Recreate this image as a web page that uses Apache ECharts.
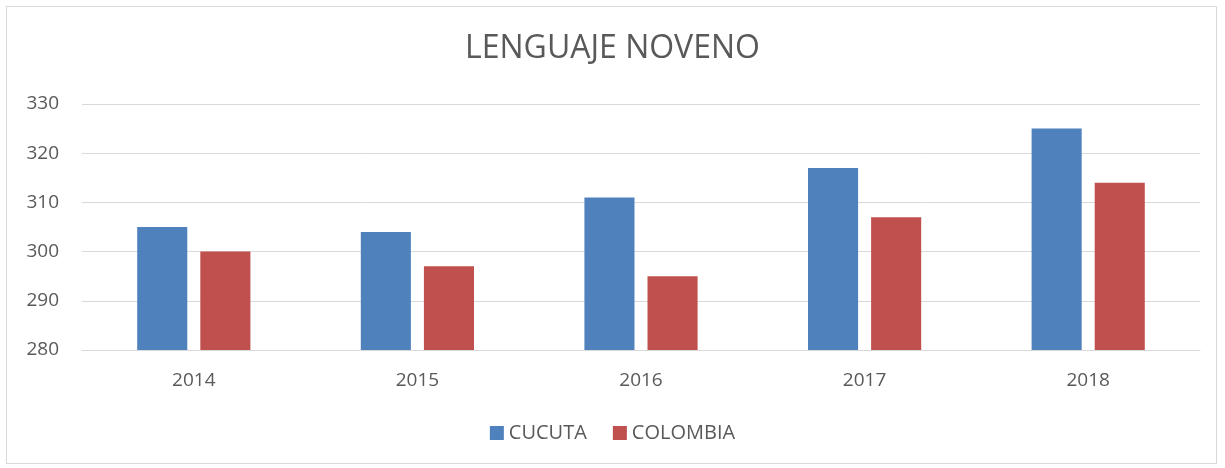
<!DOCTYPE html>
<html>
<head>
<meta charset="utf-8">
<script src="https://cdn.jsdelivr.net/npm/echarts@6/dist/echarts.min.js"></script>
<style>
  html, body { margin: 0; padding: 0; background: #fff; }
  #frame { position: absolute; left: 6px; top: 6px; width: 1211px; height: 458px; border: 1px solid #d9d9d9; box-sizing: border-box; }
  #chart { position: absolute; left: 0; top: 0; width: 1225px; height: 468px; }
</style>
</head>
<body>
<div id="frame"></div>
<div id="chart"></div>
<script>
// datos del gráfico
const years = ['2014', '2015', '2016', '2017', '2018'];
const cucuta = [305, 304, 311, 317, 325];
const colombia = [300, 297, 295, 307, 314];

const textColor = '#595959';
const font = 'Open Sans';

const chart = echarts.init(document.getElementById('chart'));

chart.setOption({
  animation: false,
  textStyle: { fontFamily: font },
  title: {
    text: 'LENGUAJE NOVENO',
    left: 'center',
    top: 28,
    textStyle: { fontFamily: font, fontSize: 32, fontWeight: 'normal', color: textColor }
  },
  legend: {
    bottom: 20,
    left: 'center',
    itemWidth: 14,
    itemHeight: 14,
    itemGap: 26,
    icon: 'rect',
    textStyle: { fontFamily: font, fontSize: 20, color: textColor },
    data: ['CUCUTA', 'COLOMBIA']
  },
  grid: { left: 82, right: 25, top: 104, bottom: 118 },
  xAxis: {
    type: 'category',
    data: years,
    axisLine: { lineStyle: { color: '#d9d9d9', width: 1 } },
    axisTick: { show: false },
    axisLabel: { color: textColor, fontSize: 19, margin: 21 }
  },
  yAxis: {
    type: 'value',
    min: 280,
    max: 330,
    interval: 10,
    axisLine: { show: false },
    axisTick: { show: false },
    splitLine: { lineStyle: { color: '#d9d9d9', width: 1 } },
    axisLabel: { color: textColor, fontSize: 19, margin: 23 }
  },
  series: [
    {
      name: 'CUCUTA',
      type: 'bar',
      data: cucuta,
      barWidth: '22.4%',
      barGap: '26%',
      itemStyle: { color: '#4F81BD' }
    },
    {
      name: 'COLOMBIA',
      type: 'bar',
      data: colombia,
      barWidth: '22.4%',
      itemStyle: { color: '#C0504D' }
    }
  ]
});
</script>
</body>
</html>
